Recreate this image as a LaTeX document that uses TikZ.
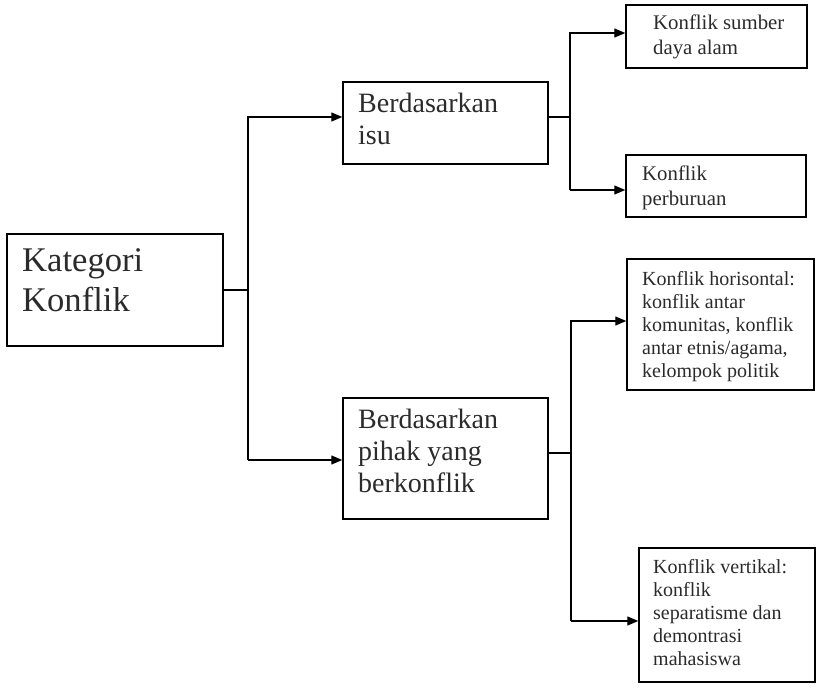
\documentclass[tikz,border=0pt]{standalone}
\usepackage{fontspec}
\setmainfont{Liberation Serif}
\usetikzlibrary{arrows.meta}
\definecolor{ink}{HTML}{2B2B2B}
\begin{document}
\begin{tikzpicture}[x=1pt,y=-1pt,
  box/.style={draw=black, line width=1.5pt, rectangle, inner sep=0pt, fill=white},
  txt/.style={anchor=north west, inner sep=0pt, align=left, text=ink},
  big/.style={font=\fontsize{34.6}{40}\selectfont},
  mid/.style={font=\fontsize{28}{32}\selectfont},
  sml/.style={font=\fontsize{20.8}{24.5}\selectfont},
  tny/.style={font=\fontsize{20}{23}\selectfont},
  wire/.style={draw=black, line width=1.3pt},
  arr/.style={wire, -{Triangle[length=11pt,width=9pt]}}]

% canvas
\fill[white] (0,0) rectangle (818,692);
\useasboundingbox (0,0) rectangle (818,692);

% boxes
\node[box, minimum width=216pt, minimum height=112pt] (kat)   at (115,290)   {};
\node[box, minimum width=205pt, minimum height=82pt]  (isu)   at (445.5,123) {};
\node[box, minimum width=205pt, minimum height=121pt] (pihak) at (445.5,458.5) {};
\node[box, minimum width=181pt, minimum height=63pt]  (sda)   at (716.5,36.5) {};
\node[box, minimum width=180pt, minimum height=62pt]  (buru)  at (716,186)   {};
\node[box, minimum width=187pt, minimum height=131pt] (hor)   at (720.5,324.5) {};
\node[box, minimum width=176pt, minimum height=134pt] (ver)   at (727,615)   {};

% box texts
\node[txt, big] (katT)   at (22,248.4)  {Kategori\\Konflik};
\node[txt, mid] (isuT)   at (358,92.9)  {Berdasarkan\\isu};
\node[txt, mid] (pihakT) at (358,408.9) {Berdasarkan\\pihak yang\\berkonflik};
\node[txt, sml] (sdaT)   at (653,14.7)  {Konflik sumber\\daya alam};
\node[txt, sml] (buruT)  at (642,165.7) {Konflik\\perburuan};
\node[txt, tny] (horT)   at (642,271.3) {Konflik horisontal:\\konflik antar\\komunitas, konflik\\antar etnis/agama,\\kelompok politik};
\node[txt, tny] (verT)   at (653,559.3) {Konflik vertikal:\\konflik\\separatisme dan\\demontrasi\\mahasiswa};

% junction points
\coordinate (ja) at (248,117);
\coordinate (jb) at (248,460);
\coordinate (ka) at (570,33);
\coordinate (kb) at (570,190);
\coordinate (ma) at (571,321);
\coordinate (mc) at (571,453);
\coordinate (mb) at (571,621);

% first level
\draw[wire] (kat.east) -- (kat.east -| ja);
\draw[arr] (jb) -- (ja) -- (ja -| isu.west);
\draw[arr] (jb) -- (jb -| pihak.west);

% issue branch
\draw[wire] (isu.east |- ja) -- (ja -| ka);
\draw[arr] (kb) -- (ka) -- (ka -| sda.west);
\draw[arr] (kb) -- (kb -| buru.west);

% party branch
\draw[wire] (pihak.east |- mc) -- (mc);
\draw[arr] (mb) -- (ma) -- (ma -| hor.west);
\draw[arr] (mb) -- (mb -| ver.west);
\end{tikzpicture}
\end{document}
